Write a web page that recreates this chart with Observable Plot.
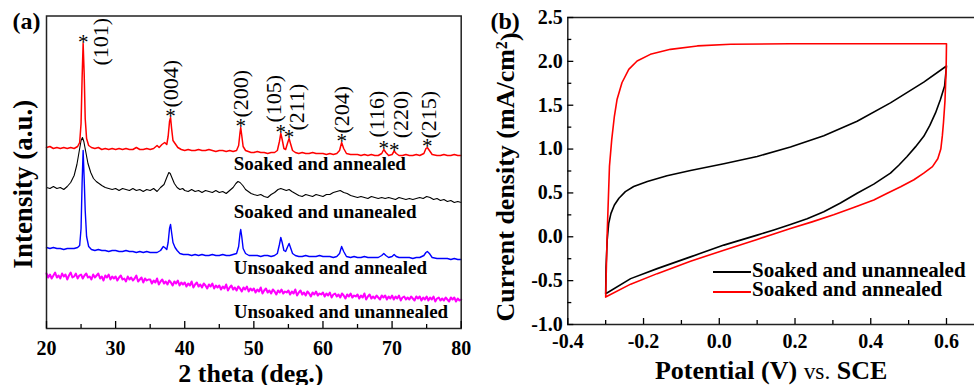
<!DOCTYPE html>
<html><head><meta charset="utf-8">
<script src="https://cdn.jsdelivr.net/npm/d3@7"></script>
<script src="https://cdn.jsdelivr.net/npm/@observablehq/plot@0.6"></script>
<style>
html,body{margin:0;padding:0;background:#fff;overflow:hidden;}
#wrap{position:relative;width:974px;height:385px;overflow:hidden;background:#fff;}
#pa{position:absolute;left:0;top:0;width:490px;height:385px;}
#pb{position:absolute;left:490px;top:0;width:490px;height:385px;}
svg{max-width:none !important;}
</style></head><body>
<div id="wrap"><div id="pa"></div><div id="pb"></div></div>
<script>
// ---------- Panel (a): XRD patterns, [2theta, intensity (a.u.)] ----------
const xrdSoakedAnnealed = [
[20,181],[20.5,182],[21,180],[21.5,181],[22,180],[22.5,181],[23,180],[23.5,181],[24,180],[24.5,182],[24.8,186],[25.0,205],[25.15,250],[25.3,285],[25.45,255],[25.6,210],[25.8,190],[26.1,183],[26.5,181],[27,180],[27.5,181],[28,179],[28.5,180],[29,179],[29.5,180],[30,179],[30.5,180],[31,179],[31.5,180],[32,179],[32.5,179],[33,181],[33.5,179],[34,179],[34.5,180],[35,179],[35.5,180],[36,183],[36.3,181],[36.7,184],[37.1,186],[37.4,184],[37.6,192],[37.8,207],[37.95,211],[38.1,200],[38.3,188],[38.6,185],[39,181],[39.5,179],[40,178],[40.5,179],[41,178],[41.5,178],[42,179],[42.5,178],[43,178],[43.5,179],[44,178],[44.5,177],[45,178],[45.5,178],[46,177],[46.5,178],[47,177],[47.5,178],[47.8,183],[48.0,196],[48.1,201],[48.25,193],[48.45,182],[48.8,178],[49.2,177],[49.6,176],[50,176],[50.5,177],[51,176],[51.5,176],[52,175],[52.5,176],[53,176],[53.4,178],[53.7,187],[53.9,195],[54.1,189],[54.35,180],[54.6,179],[54.9,186],[55.1,190],[55.3,185],[55.6,178],[56,176],[56.5,175],[57,176],[57.5,175],[58,175],[58.5,176],[59,175],[59.5,175],[60,175],[60.5,174],[61,175],[61.5,174],[62,175],[62.4,178],[62.7,186],[63.0,180],[63.4,175],[64,174],[64.5,174],[65,174],[65.5,173],[66,174],[66.5,173],[67,174],[67.5,173],[68,173],[68.5,175],[68.8,179],[69.1,176],[69.5,173],[70,174],[70.3,177.5],[70.6,175],[71,173],[71.5,173],[72,174],[72.5,173],[73,173],[73.5,174],[74,173],[74.6,175],[74.9,180],[75.1,181],[75.4,178],[75.8,174],[76.5,173],[77,173],[77.5,174],[78,173],[78.5,173],[79,174],[79.5,173],[80,173]
];
const xrdSoakedUnannealed = [
[20,141],[20.5,140],[21,142],[21.5,140],[22,141],[22.5,139],[23,142],[23.5,146],[24,153],[24.4,164],[24.7,176],[25.0,188],[25.2,191],[25.4,187],[25.7,176],[26.0,165],[26.4,156],[26.8,150],[27.2,147],[27.6,145],[28,143],[28.5,141],[29,140],[29.5,139],[30,140],[30.5,138],[31,140],[31.5,139],[32,138],[32.5,140],[33,138],[33.5,139],[34,137],[34.5,139],[35,138],[35.5,140],[36,137],[36.5,141],[37,144],[37.4,151],[37.7,156],[37.9,155],[38.2,150],[38.5,145],[38.9,141],[39.3,139],[39.7,140],[40,138],[40.5,137],[41,139],[41.5,137],[42,138],[42.5,136],[43,138],[43.5,137],[44,136],[44.5,138],[45,136],[45.5,137],[46,135],[46.5,138],[47,141],[47.4,145],[47.7,147],[48.0,146],[48.4,143],[48.8,139],[49.2,137],[49.6,135],[50,134],[50.5,133],[51,134],[51.5,132],[52,131],[52.5,134],[53,136],[53.5,139],[53.9,140],[54.3,139],[54.7,138],[55.1,139],[55.5,137],[56,135],[56.5,133],[57,132],[57.5,134],[58,133],[58.5,132],[59,134],[59.5,133],[60,132],[60.5,134],[61,134],[61.5,136],[62,137],[62.5,138],[63,136],[63.5,135],[64,133],[64.5,132],[65,131],[65.5,132],[66,131],[66.5,130],[67,132],[67.5,131],[68,130],[68.5,131],[69,130],[69.5,131],[70,130],[70.5,129],[71,131],[71.5,130],[72,129],[72.5,130],[73,129],[73.5,130],[74,131],[74.5,130],[75,132],[75.5,131],[76,129],[76.5,130],[77,128],[77.5,129],[78,127],[78.5,128],[79,126],[79.5,127],[80,126]
];
const xrdUnsoakedAnnealed = [
[20,81],[20.5,80],[21,81],[21.5,80],[22,80],[22.5,79],[23,80],[23.5,80],[24,80],[24.5,81],[24.8,83],[25.0,100],[25.15,145],[25.3,178],[25.45,150],[25.6,118],[25.8,92],[26.1,82],[26.5,79],[27,78],[27.5,79],[28,78],[28.5,78],[29,77],[29.5,78],[30,78],[30.5,77],[31,77],[31.5,78],[32,77],[32.5,77],[33,76],[33.5,77],[34,76],[34.5,77],[35,76],[35.5,76],[36,76],[36.5,78],[36.9,82],[37.1,81],[37.4,79],[37.6,86],[37.8,100],[37.95,104],[38.1,96],[38.3,86],[38.6,81],[38.9,78],[39.3,75],[39.8,74],[40.5,74],[41,73],[41.5,74],[42,73],[42.5,74],[43,73],[43.5,73],[44,74],[44.5,73],[45,73],[45.5,74],[46,73],[46.5,73],[47,74],[47.5,75],[47.8,82],[48.0,95],[48.1,99],[48.25,92],[48.45,80],[48.8,75],[49.3,73],[50,73],[50.5,73],[51,72],[51.5,73],[52,73],[52.5,72],[53,73],[53.4,75],[53.7,84],[53.9,91],[54.1,86],[54.35,78],[54.6,77],[54.9,82],[55.1,85],[55.3,81],[55.6,75],[56,73],[56.5,72],[57,72],[57.5,73],[58,72],[58.5,72],[59,72],[59.5,73],[60,72],[60.5,72],[61,72],[61.5,71],[62,72],[62.4,75],[62.7,82],[63.0,77],[63.4,72],[64,71],[64.5,72],[65,71],[65.5,71],[66,72],[66.5,71],[67,71],[67.5,71],[68,71],[68.5,73],[68.8,75],[69.1,73],[69.5,71],[70,72],[70.3,74],[70.6,72],[71,71],[71.5,71],[72,71],[72.5,71],[73,70],[73.5,71],[74,71],[74.6,73],[74.9,76],[75.1,77],[75.4,75],[75.8,71],[76.5,70],[77,70],[77.5,70],[78,70],[78.5,69],[79,70],[79.5,69],[80,69]
];
// Unsoaked and unannealed: intensities every 0.25 deg from 20 to 80
const xrdUnsoakedUnannealedStart = 20, xrdUnsoakedUnannealedStep = 0.25;
const xrdUnsoakedUnannealed = [
55,51,54,50,53,56,51,53,50,55,52,54,49,53,56,51,52,55,50,53,
54,50,53,55,51,52,49,54,51,53,55,50,52,48,53,51,54,49,52,50,
52,48,51,53,49,50,47,52,49,51,48,50,53,47,49,51,46,50,48,49,
49,45,48,46,50,44,47,49,45,47,44,48,46,43,47,45,48,43,46,44,
46,42,45,43,47,41,44,46,42,44,41,45,43,40,44,42,45,40,43,41,
43,39,42,40,44,38,41,43,39,41,38,42,40,37,41,39,42,37,40,38,
40,36,39,37,41,35,38,40,36,38,35,39,37,34,38,36,39,35,37,36,
38,34,37,35,39,33,36,38,34,36,33,37,35,32,36,34,37,33,35,34,
36,32,35,33,36,31,34,35,32,34,31,35,33,30,34,32,35,31,33,32,
34,30,33,31,35,29,32,34,30,32,30,33,31,29,33,31,33,29,32,30,
33,29,32,30,33,28,31,32,29,31,29,32,30,28,32,30,32,28,31,29,
32,28,31,29,32,27,30,31,28,30,28,31,29,27,31,29,31,27,30,28,
29];
const seriesNames = ["Soaked and annealed","Soaked and unanealed","Unsoaked and annealed","Unsoaked and unannealed"];
const peakPos = [25.3, 37.95, 48.1, 53.9, 55.1, 62.7, 68.8, 70.3, 75.1];
const peakHkl = ["(101)","(004)","(200)","(105)","(211)","(204)","(116)","(220)","(215)"];
const xMajorA = [20,30,40,50,60,70,80];
const xMinorA = [25,35,45,55,65,75];

// ---------- Panel (b): cyclic voltammograms, [V vs SCE, mA/cm2] ----------
const cvSoakedUnannealed = [
[-0.300,-0.649],[-0.299,-0.344],[-0.296,-0.038],[-0.292,0.153],[-0.286,0.267],[-0.277,0.363],[-0.265,0.439],[-0.248,0.515],[-0.226,0.573],[-0.190,0.630],[-0.138,0.695],[-0.076,0.756],[0.012,0.832],[0.100,0.916],[0.188,1.023],[0.276,1.153],[0.364,1.317],[0.452,1.527],[0.540,1.763],[0.600,1.947],
[0.595,1.718],[0.584,1.565],[0.571,1.412],[0.556,1.270],[0.540,1.145],[0.518,1.025],[0.496,0.916],[0.474,0.816],[0.452,0.725],[0.408,0.600],[0.364,0.496],[0.320,0.385],[0.276,0.285],[0.232,0.205],[0.188,0.140],[0.144,0.078],[0.100,0.019],[0.012,-0.095],[-0.076,-0.229],[-0.164,-0.363],[-0.234,-0.477],[-0.300,-0.649]
];
const cvSoakedAnnealed = [
[-0.300,-0.687],[-0.296,0.038],[-0.290,0.802],[-0.284,1.107],[-0.277,1.374],[-0.270,1.565],[-0.257,1.756],[-0.239,1.908],[-0.217,2.004],[-0.182,2.080],[-0.129,2.137],[-0.058,2.176],[0.030,2.195],[0.188,2.200],[0.600,2.200],
[0.599,1.90],[0.596,1.55],[0.592,1.30],[0.589,1.15],[0.585,1.00],[0.577,0.89],[0.563,0.80],[0.540,0.725],[0.514,0.65],[0.479,0.57],[0.445,0.50],[0.408,0.42],[0.355,0.335],[0.302,0.250],[0.245,0.170],[0.188,0.095],[0.144,0.032],[0.100,-0.030],[0.012,-0.153],[-0.076,-0.279],[-0.164,-0.420],[-0.234,-0.540],[-0.300,-0.687]
];
const cvNames = ["Soaked and unannealed","Soaked and annealed"];
const xMajorB = [-0.4,-0.2,0.0,0.2,0.4,0.6];
const xMinorB = [-0.3,-0.1,0.1,0.3,0.5];
const yMajorB = [-1.0,-0.5,0.0,0.5,1.0,1.5,2.0,2.5];
const yMinorB = [-0.75,-0.25,0.25,0.75,1.25,1.75,2.25];

// ---------- rendering ----------
const FONT = "'Liberation Serif','Times New Roman',Times,serif";
const magenta = xrdUnsoakedUnannealed.map((v,i)=>[xrdUnsoakedUnannealedStart + i*xrdUnsoakedUnannealedStep, v]);
const topOf = x => d3.max(xrdSoakedAnnealed.filter(p => Math.abs(p[0]-x) <= 0.2), p => p[1]);
const peaks = peakPos.map((x,i)=>({x, hkl: peakHkl[i], top: topOf(x)}));
// label placement (screen px): horizontal shift, gap above the peak top
const labelDx = [18, 0, 0, -7, 7.5, 0, -6.6, 6.4, 1.6];
const labelGap = [-22, 10, 10, 11, 8, 9, 12, 12.7, 9];
const seriesLabelX = 47.1;
const seriesLabelY = [159, 111, 55, 11];
const seriesLabels = seriesNames.map((n,i)=>({n, x: seriesLabelX, y: seriesLabelY[i]}));
const px = d => d[0], py = d => d[1];

const plotA = Plot.plot({
  width: 490, height: 385,
  marginLeft: 46, marginRight: 29.3, marginTop: 15.5, marginBottom: 57,
  style: {fontFamily: FONT, background: "white", color: "black", overflow: "visible"},
  x: {domain: [20, 80]},
  y: {domain: [0, 312.5], axis: null},
  marks: [
    Plot.line(magenta, {x: px, y: py, stroke: "#ff00ff", strokeWidth: 2}),
    Plot.line(xrdUnsoakedAnnealed, {x: px, y: py, stroke: "#0000ff", strokeWidth: 1.4}),
    Plot.line(xrdSoakedUnannealed, {x: px, y: py, stroke: "#000000", strokeWidth: 1.1}),
    Plot.line(xrdSoakedAnnealed, {x: px, y: py, stroke: "#ff0000", strokeWidth: 1.5}),
    Plot.text(peaks, {x: "x", y: "top", text: () => "*", fontSize: 21, lineAnchor: "bottom", dy: 5.5}),
    ...peaks.map((p,i) => Plot.text([p], {x: "x", y: "top", text: "hkl", rotate: -90, textAnchor: "start", lineAnchor: "middle", dx: labelDx[i], dy: -labelGap[i], fontSize: 22})),
    Plot.text(seriesLabels, {x: "x", y: "y", text: "n", textAnchor: "start", lineAnchor: "bottom", fontSize: 19, fontWeight: "bold"}),
    Plot.frame({stroke: "#222", strokeWidth: 1.5}),
    Plot.axisX({ticks: xMinorA, tickSize: -4, fill: "none", label: null, strokeWidth: 1.3}),
    Plot.axisX({ticks: xMajorA, tickSize: -7, tickPadding: 19, tickFormat: d => String(d), fontSize: 20, fontWeight: "bold", label: null, strokeWidth: 1.3}),
    Plot.text(["2 theta (deg.)"], {text: d => d, frameAnchor: "bottom", textAnchor: "middle", lineAnchor: "bottom", dx: -3, dy: 53, fontSize: 26, fontWeight: "bold"}),
    Plot.text(["Intensity (a.u.)"], {text: d => d, frameAnchor: "left", rotate: -90, textAnchor: "middle", lineAnchor: "middle", dx: -23, dy: 12, fontSize: 27, fontWeight: "bold"}),
    Plot.text(["(a)"], {text: d => d, frameAnchor: "top-left", textAnchor: "end", lineAnchor: "bottom", dx: -6, dy: 13, fontSize: 24, fontWeight: "bold"})
  ]
});
document.getElementById("pa").appendChild(plotA);

const plotB = Plot.plot({
  width: 490, height: 385,
  marginLeft: 77.3, marginRight: 0, marginTop: 17, marginBottom: 61,
  style: {fontFamily: FONT, background: "white", color: "black", overflow: "visible"},
  x: {domain: [-0.4, 0.6898]},
  y: {domain: [-1, 2.5]},
  marks: [
    Plot.line(cvSoakedUnannealed, {x: px, y: py, stroke: "#000000", strokeWidth: 1.6}),
    Plot.line(cvSoakedAnnealed, {x: px, y: py, stroke: "#ff0000", strokeWidth: 1.6}),
    Plot.frame({stroke: "#222", strokeWidth: 1.5}),
    Plot.axisX({ticks: xMinorB, tickSize: -4, fill: "none", label: null, strokeWidth: 1.3}),
    Plot.axisX({ticks: xMajorB, tickSize: -6, tickPadding: 15, tickFormat: d => d.toFixed(1), fontSize: 20, fontWeight: "bold", label: null, strokeWidth: 1.3}),
    Plot.axisY({ticks: yMinorB, tickSize: -4, fill: "none", label: null, strokeWidth: 1.3}),
    Plot.axisY({ticks: yMajorB, tickSize: -6, tickPadding: 11, tickFormat: d => d.toFixed(1), fontSize: 20, fontWeight: "bold", label: null, strokeWidth: 1.3}),
    Plot.text(["Potential (V) vs. SCE"], {text: d => d, frameAnchor: "bottom", textAnchor: "middle", lineAnchor: "bottom", dx: -3, dy: 54, fontSize: 26, fontWeight: "bold"}),
    Plot.text(["Current density (mA/cm2)"], {text: d => d, frameAnchor: "left", rotate: -90, textAnchor: "middle", lineAnchor: "middle", dx: -62, dy: 6, fontSize: 26, fontWeight: "bold"}),
    Plot.text(["(b)"], {text: d => d, frameAnchor: "top-left", textAnchor: "start", lineAnchor: "bottom", dx: -77.3, dy: 11, fontSize: 24, fontWeight: "bold"})
  ]
});
document.getElementById("pb").appendChild(plotB);

// rich text: superscript and regular-weight "vs."
d3.select(plotB).selectAll("text").each(function() {
  const t = this.textContent;
  if (t === "Current density (mA/cm2)") {
    const s = d3.select(this); s.text("");
    s.append("tspan").text("Current density (mA/cm");
    s.append("tspan").attr("dy", "-0.42em").attr("font-size", "62%").text("2");
    s.append("tspan").attr("dy", "0.42em").text(")");
  } else if (t === "Potential (V) vs. SCE") {
    const s = d3.select(this); s.text("");
    s.append("tspan").text("Potential (V) ");
    s.append("tspan").attr("font-weight", "normal").attr("font-size", "90%").text("vs.");
    s.append("tspan").text(" SCE");
  }
});

// legend inside panel (b)
const lg = d3.select(plotB).append("g").attr("font-family", FONT).attr("font-weight", "bold").attr("font-size", 21).attr("text-anchor", "start");
const legendColors = ["#000000", "#ff0000"];
cvNames.forEach((n, i) => {
  lg.append("line").attr("x1", 223).attr("x2", 261).attr("y1", 272 + i*20).attr("y2", 272 + i*20)
    .attr("stroke", legendColors[i]).attr("stroke-width", 1.8);
  lg.append("text").attr("x", 262).attr("y", 277 + i*19).attr("fill", "black").attr("text-anchor", "start").text(n);
});
</script>
</body></html>
